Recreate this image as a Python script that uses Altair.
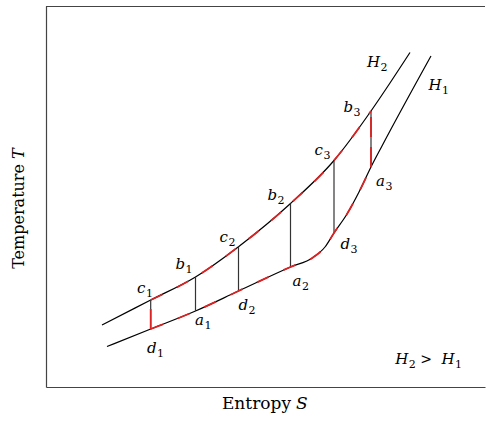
import altair as alt
import pandas as pd

# Isenthalpic lines on the T-S diagram (entropy S, temperature T, arbitrary units)
h2_s = [56, 104.7, 149.5, 192.5, 244.5, 288, 325, 344, 364]
h2_t = [62, 87, 110, 140.3, 183.5, 226.5, 276, 304, 334.5]
h1_s = [61, 104.7, 149.5, 192.5, 244.5, 267, 279, 288, 301, 313, 325, 336, 385]
h1_t = [40.5, 58, 76, 96, 120, 129.5, 140, 154, 173, 195, 220, 241, 331]

# Stepwise states: vertical steps between the two lines
step_s = [104.7, 149.5, 192.5, 244.5, 288, 325]
step_upper = [87, 110, 140.3, 183.5, 226.5, 276]
step_lower = [58, 76, 96, 120, 154, 220]

# State labels (letter, subscript, anchor S, anchor T)
lab_letter = ["c", "b", "c", "b", "c", "b", "a", "d", "d", "a", "d", "a", "H", "H", "H", "H"]
lab_sub = ["1", "1", "2", "2", "3", "3", "1", "1", "2", "2", "3", "3", "2", "1", "2", "1"]
lab_s = [99.5, 139, 182, 231, 277, 307, 158, 110.5, 202, 255.5, 304, 339, 334, 395.5, 362.3, 408.5]
lab_t = [94.5, 118.5, 145.5, 187, 232, 275.5, 62.5, 34.5, 77, 101, 138, 201, 320.5, 297, 22.7, 22.7]

RED = "#dc2222"
SERIF = "DejaVu Serif"

curves = pd.concat([
    pd.DataFrame({"S": h2_s, "T": h2_t, "line": "H2"}),
    pd.DataFrame({"S": h1_s, "T": h1_t, "line": "H1"}),
])
lo, hi = step_s[0], step_s[-1]
cycle = curves[(curves.S >= lo - 0.01) & (curves.S <= hi + 0.01)]
steps = pd.DataFrame({"S": step_s, "Tu": step_upper, "Tl": step_lower})
red_steps = steps.iloc[[0, -1]]
labels = pd.DataFrame({"S": lab_s, "T": lab_t, "letter": lab_letter, "sub": lab_sub})
gt_sign = pd.DataFrame({"S": [380.0], "T": [22.7], "txt": [">"]})

xscale = alt.Scale(domain=[0, 439], nice=False, zero=False)
yscale = alt.Scale(domain=[0, 381], nice=False, zero=False)
axis = alt.Axis(title=None, ticks=False, labels=False, grid=False,
                domain=True, domainColor="#444", domainWidth=1.2)


def X(field):
    return alt.X(field, type="quantitative", scale=xscale, axis=axis)


def Y(field):
    return alt.Y(field, type="quantitative", scale=yscale, axis=axis)


lines = alt.Chart(curves).mark_line(
    interpolate="monotone", color="black", strokeWidth=1.2
).encode(x=X("S"), y=Y("T"), detail="line:N")

verticals = alt.Chart(steps).mark_rule(color="#333", strokeWidth=1.2).encode(
    x=X("S"), y=Y("Tl"), y2="Tu"
)

red_curves = alt.Chart(cycle).mark_line(
    interpolate="monotone", color=RED, strokeWidth=1.8, strokeDash=[13, 16]
).encode(x=X("S"), y=Y("T"), detail="line:N")

red_verticals = alt.Chart(red_steps).mark_rule(
    color=RED, strokeWidth=1.8, strokeDash=[20, 10]
).encode(x=X("S"), y=Y("Tl"), y2="Tu")

letters = alt.Chart(labels).mark_text(
    align="right", baseline="alphabetic", font=SERIF, fontStyle="italic", fontSize=15, color="black"
).encode(x=X("S"), y=Y("T"), text="letter:N")

subs = alt.Chart(labels).mark_text(
    align="left", baseline="alphabetic", font=SERIF, fontSize=11, dx=0.5, dy=4, color="black"
).encode(x=X("S"), y=Y("T"), text="sub:N")

gt = alt.Chart(gt_sign).mark_text(
    align="center", baseline="alphabetic", font=SERIF, fontSize=14, color="black"
).encode(x=X("S"), y=Y("T"), text="txt:N")

# frame top edge
top_edge = alt.Chart(pd.DataFrame({"k": [0]})).mark_rule(color="#444", strokeWidth=1.2).encode(
    x=alt.value(0), x2=alt.value(439), y=alt.value(0.5)
)

one = pd.DataFrame({"k": [0]})
title_style = dict(font=SERIF, color="black", baseline="alphabetic")
x_title_a = alt.Chart(one).mark_text(align="right", fontSize=17, **title_style).encode(
    x=alt.value(245), y=alt.value(403), text=alt.value("Entropy"))
x_title_b = alt.Chart(one).mark_text(align="left", fontSize=17, fontStyle="italic", **title_style).encode(
    x=alt.value(250), y=alt.value(403), text=alt.value("S"))
y_title_a = alt.Chart(one).mark_text(align="right", angle=270, fontSize=16, **title_style).encode(
    x=alt.value(-22), y=alt.value(158), text=alt.value("Temperature"))
y_title_b = alt.Chart(one).mark_text(align="left", angle=270, fontSize=16, fontStyle="italic", **title_style).encode(
    x=alt.value(-22), y=alt.value(153), text=alt.value("T"))

chart = alt.layer(
    lines, verticals, red_curves, red_verticals, letters, subs, gt, top_edge,
    x_title_a, x_title_b, y_title_a, y_title_b
).properties(
    width=439, height=381, autosize="none",
    padding={"left": 46, "top": 6, "right": 1, "bottom": 36},
    background="white",
).configure_view(stroke=None)

chart.save("out.html", embed_options={"renderer": "svg", "actions": False})
